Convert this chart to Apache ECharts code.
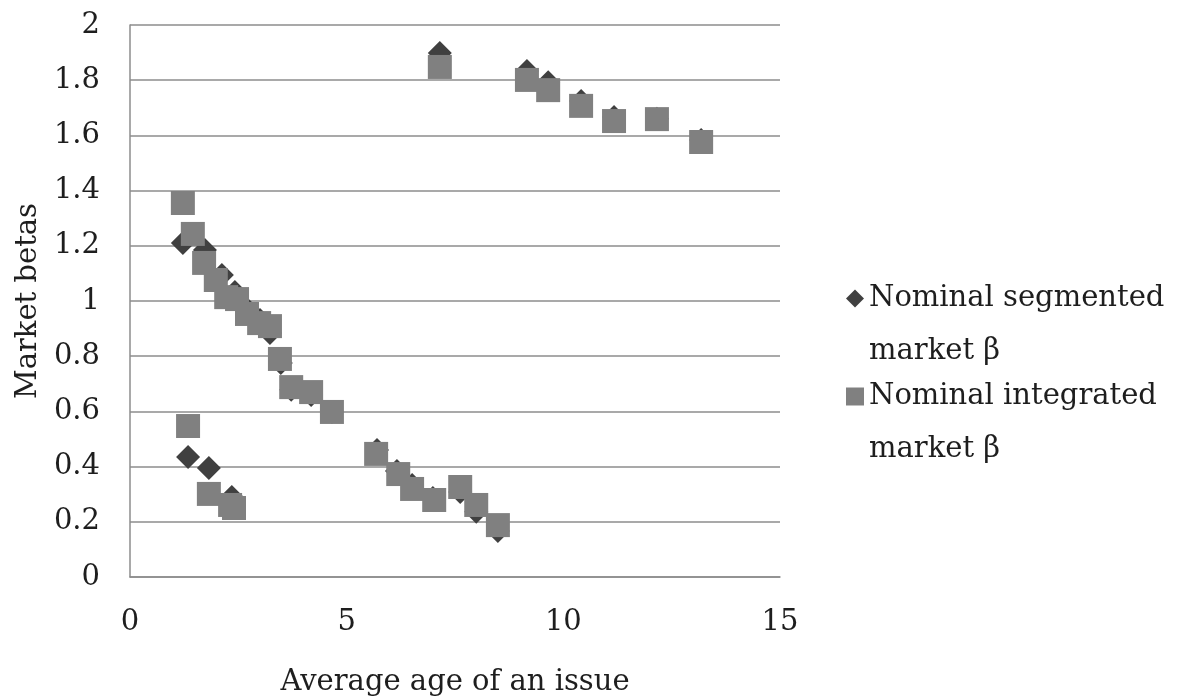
<!DOCTYPE html>
<html>
<head>
<meta charset="utf-8">
<script src="https://cdn.jsdelivr.net/npm/echarts@6/dist/echarts.min.js"></script>
<style>
html,body{margin:0;padding:0;background:#fff;}
#chart{width:1179px;height:698px;}
</style>
</head>
<body>
<div id="chart"></div>
<script>
// Average age of an issue (x) and market beta (y)
const segmentedX = [1.22,1.73,2.12,2.42,2.72,3.00,3.23,3.48,3.72,4.18,4.66,1.34,1.82,2.35,5.70,6.16,6.51,6.99,7.62,7.99,8.49,7.15,9.16,9.65,10.41,11.17,12.16,13.18];
const segmentedY = [1.210,1.185,1.094,1.033,0.967,0.931,0.884,0.775,0.678,0.659,0.598,0.435,0.395,0.290,0.460,0.384,0.333,0.286,0.308,0.236,0.167,1.899,1.833,1.793,1.725,1.667,1.660,1.583];
const integratedX = [1.22,1.45,1.71,1.98,2.22,2.47,2.70,2.98,3.23,3.46,3.72,4.18,4.66,1.34,1.82,2.31,2.40,5.68,6.19,6.51,7.02,7.62,7.99,8.49,7.15,9.16,9.65,10.41,11.17,12.16,13.18];
const integratedY = [1.355,1.243,1.138,1.076,1.014,1.007,0.953,0.920,0.909,0.790,0.688,0.670,0.598,0.547,0.301,0.261,0.250,0.446,0.373,0.319,0.279,0.326,0.261,0.188,1.848,1.801,1.764,1.707,1.652,1.659,1.576];
const seriesNames = ['Nominal segmented\nmarket \u03b2', 'Nominal integrated\nmarket \u03b2'];
const xTicks = [0, 5, 10, 15];
const yTicks = [0, 0.2, 0.4, 0.6, 0.8, 1, 1.2, 1.4, 1.6, 1.8, 2];

const FONT = '"DejaVu Serif", "Liberation Serif", serif';
const TXT = '#1e1e1e';
const GRID = '#8c8c8c';

const zip = (xs, ys) => xs.map((x, i) => [x, ys[i]]);

const chart = echarts.init(document.getElementById('chart'), null, {renderer: 'canvas'});
chart.setOption({
  backgroundColor: '#ffffff',
  animation: false,
  textStyle: {fontFamily: FONT},
  grid: {left: 130, right: 399, top: 25, bottom: 121, containLabel: false, outerBoundsMode: 'none'},
  legend: {
    orient: 'vertical',
    left: 841,
    top: 214,
    itemWidth: 18,
    itemHeight: 18,
    itemGap: -61,
    data: [
      {name: seriesNames[0], icon: 'diamond', itemStyle: {color: '#404040'}},
      {name: seriesNames[1], icon: 'rect', itemStyle: {color: '#808080'}}
    ],
    // leading blank line so the icon sits beside the first text line
    formatter: name => '\u00a0\n' + name,
    textStyle: {fontFamily: FONT, fontSize: 29, color: TXT, lineHeight: 53}
  },
  xAxis: {
    type: 'value',
    min: xTicks[0],
    max: xTicks[xTicks.length - 1],
    interval: 5,
    name: 'Average age of an issue',
    nameLocation: 'middle',
    nameGap: 91,
    nameTextStyle: {fontFamily: FONT, fontSize: 29, color: TXT},
    axisLine: {show: true, lineStyle: {color: GRID, width: 1.5}},
    axisTick: {show: false},
    splitLine: {show: false},
    axisLabel: {fontFamily: FONT, fontSize: 29, color: TXT, margin: 31}
  },
  yAxis: {
    type: 'value',
    min: yTicks[0],
    max: yTicks[yTicks.length - 1],
    interval: 0.2,
    name: 'Market betas',
    nameLocation: 'middle',
    nameGap: 86,
    nameTextStyle: {fontFamily: FONT, fontSize: 29, color: TXT},
    axisLine: {show: true, lineStyle: {color: GRID, width: 1.5}},
    axisTick: {show: false},
    splitLine: {show: true, lineStyle: {color: GRID, width: 1.5}},
    axisLabel: {
      fontFamily: FONT, fontSize: 29, color: TXT, margin: 30,
      formatter: v => String(Math.round(v * 10) / 10)
    }
  },
  series: [
    {
      name: seriesNames[0],
      type: 'scatter',
      symbol: 'diamond',
      symbolSize: 24,
      itemStyle: {color: '#404040', opacity: 1},
      data: zip(segmentedX, segmentedY),
      z: 2
    },
    {
      name: seriesNames[1],
      type: 'scatter',
      symbol: 'rect',
      symbolSize: 24,
      itemStyle: {color: '#808080', opacity: 1},
      data: zip(integratedX, integratedY),
      z: 3
    }
  ]
});
</script>
</body>
</html>
